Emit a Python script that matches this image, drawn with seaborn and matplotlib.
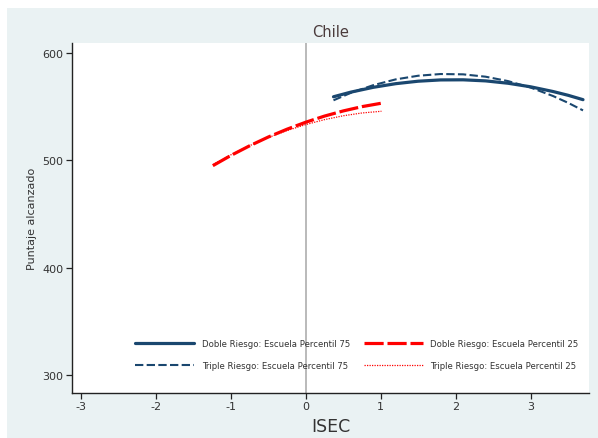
import matplotlib
matplotlib.use("Agg")
import matplotlib.pyplot as plt
import seaborn as sns
import pandas as pd
from matplotlib.patches import Rectangle

# ISEC positions and predicted scores for each group
isec_p75 = [0.37, 0.6, 0.9, 1.2, 1.5, 1.8, 2.1, 2.4, 2.7, 3.0, 3.3, 3.5, 3.7]
doble_p75 = [559.2, 563.5, 568.0, 571.4, 573.7, 574.9, 575.0, 574.0, 571.8, 568.5, 564.1, 560.6, 556.5]
triple_p75 = [555.9, 562.8, 570.0, 575.4, 578.8, 580.4, 580.1, 577.9, 573.8, 567.8, 559.9, 553.6, 546.5]

isec_p25 = [-1.24, -1.0, -0.75, -0.5, -0.25, 0.0, 0.25, 0.5, 0.75, 1.01]
doble_p25 = [495.0, 504.5, 513.5, 521.7, 529.0, 535.5, 541.2, 546.0, 550.0, 553.2]
triple_p25 = [496.0, 505.1, 513.6, 521.2, 527.7, 533.3, 537.9, 541.5, 544.1, 545.7]

labels = [
    "Doble Riesgo: Escuela Percentil 75",
    "Triple Riesgo: Escuela Percentil 75",
    "Doble Riesgo: Escuela Percentil 25",
    "Triple Riesgo: Escuela Percentil 25",
]
x_ticks = [-3, -2, -1, 0, 1, 2, 3]
y_ticks = [300, 400, 500, 600]

NAVY = "#1A476F"
RED = "#FF0000"
BG = "#EAF2F3"

sns.set_theme(style="white")
plt.rcParams["font.family"] = ["DejaVu Sans"]

fig = plt.figure(figsize=(5.98, 4.39), dpi=100, facecolor="white")
fig.patches.append(Rectangle((7 / 598, 0), 1 - 7 / 598, 1 - 9 / 439,
                             transform=fig.transFigure, facecolor=BG,
                             edgecolor="none", zorder=-10))
ax = fig.add_axes([72 / 598, 1 - 394 / 439, (589 - 72) / 598, (394 - 44) / 439])
ax.set_facecolor("white")

ax.axvline(0, color="#B4B4B4", lw=1.3, zorder=1)

series = [
    (isec_p75, doble_p75, dict(color=NAVY, lw=2.3, linestyle="-")),
    (isec_p75, triple_p75, dict(color=NAVY, lw=1.5, linestyle=(0, (4, 1.6)))),
    (isec_p25, doble_p25, dict(color=RED, lw=2.3, linestyle=(0, (6, 1.2)))),
    (isec_p25, triple_p25, dict(color=RED, lw=0.9, linestyle=(0, (1, 1)))),
]
handles = []
for (xs, ys, style), lab in zip(series, labels):
    df = pd.DataFrame({"ISEC": xs, "score": ys})
    sns.lineplot(data=df, x="ISEC", y="score", ax=ax, label=lab, sort=True, **style)
    handles.append(ax.lines[-1])

ax.set_xlim(-3.12, 3.78)
ax.set_ylim(283.2, 609.3)
ax.set_xticks(x_ticks)
ax.set_yticks(y_ticks)
ax.set_xticklabels([str(v) for v in x_ticks])
ax.set_yticklabels([str(v) for v in y_ticks])

for side in ["top", "right"]:
    ax.spines[side].set_visible(False)
for side in ["left", "bottom"]:
    ax.spines[side].set_color("#222222")
    ax.spines[side].set_linewidth(1.0)
ax.tick_params(axis="both", which="major", direction="out", length=4, width=0.9,
               color="#222222", labelsize=8, labelcolor="#333333", pad=2,
               bottom=True, left=True)

ax.set_title("Chile", fontsize=10.5, color="#4A3B3B", pad=5)
ax.set_xlabel("ISEC", fontsize=12.5, color="#333333", labelpad=4)
ax.set_ylabel("Puntaje alcanzado", fontsize=8, color="#333333", labelpad=4)

leg = ax.legend(handles=handles, labels=labels, ncol=2, loc="lower left",
                bbox_to_anchor=(0.11, 0.05), frameon=False, fontsize=6.1,
                handlelength=7, handletextpad=0.9, columnspacing=1.6,
                labelspacing=1.45, borderpad=0.2)
for t in leg.get_texts():
    t.set_color("#333333")

fig.savefig("out.png", dpi=100, facecolor=fig.get_facecolor())
